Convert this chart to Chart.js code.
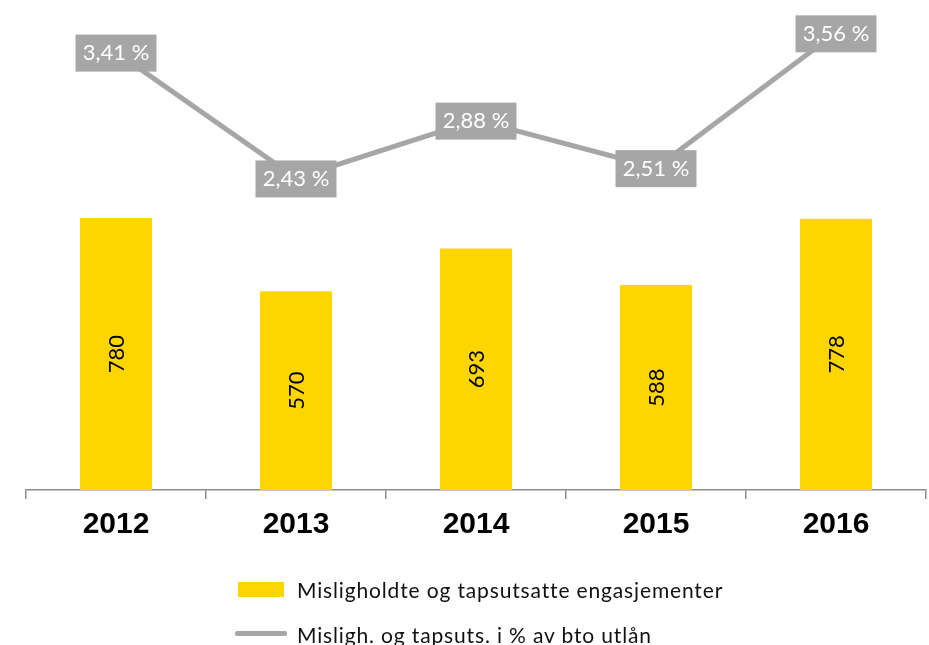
<!DOCTYPE html>
<html>
<head>
<meta charset="utf-8">
<script src="https://cdn.jsdelivr.net/npm/chart.js@4"></script>
<style>
  html, body { margin: 0; padding: 0; background: #fff; }
  #wrap { position: relative; width: 929px; height: 645px; overflow: hidden; }
  #c { position: absolute; left: 0; top: 0; }
  .leg { position: absolute; left: 0; font-family: Lato, "Open Sans", sans-serif; font-size: 21px; letter-spacing: 0.85px; color: #111; white-space: nowrap; }
  .sw { position: absolute; }
</style>
</head>
<body>
<div id="wrap">
  <canvas id="c" width="929" height="645"></canvas>
  <div class="sw" style="left:238px;top:582px;width:46px;height:15px;background:#FFD500"></div>
  <div class="leg" id="l1" style="left:297px;top:577px;">Misligholdte og tapsutsatte engasjementer</div>
  <div class="sw" style="left:235px;top:631px;width:52px;height:5px;border-radius:2px;background:#A6A6A6"></div>
  <div class="leg" id="l2" style="left:297px;top:622px;">Misligh. og tapsuts. i % av bto utlån</div>
</div>
<script>
const categories = ["2012", "2013", "2014", "2015", "2016"];
const barValues = [780, 570, 693, 588, 778];
const lineValues = [3.41, 2.43, 2.88, 2.51, 3.56];
const barLabel = "Misligholdte og tapsutsatte engasjementer";
const lineLabel = "Misligh. og tapsuts. i % av bto utlån";

const fmtPct = v => v.toFixed(2).replace(".", ",") + " %";

const labelPlugin = {
  id: "labels",
  afterDatasetsDraw(chart) {
    const ctx = chart.ctx;
    chart.data.datasets.forEach((ds, i) => {
      const meta = chart.getDatasetMeta(i);
      meta.data.forEach((el, j) => {
        ctx.save();
        if (ds.type === "bar") {
          const cy = (el.y + el.base) / 2;
          ctx.translate(el.x, cy);
          ctx.rotate(-Math.PI / 2);
          ctx.font = "22px Lato, 'Open Sans', sans-serif";
          ctx.fillStyle = "#000";
          ctx.textAlign = "center";
          ctx.textBaseline = "middle";
          ctx.fillText(String(ds.data[j]), 0, 1);
        } else {
          const w = 81, h = 37;
          ctx.fillStyle = "#A6A6A6";
          ctx.fillRect(el.x - w / 2, el.y - h / 2 + 1, w, h);
          ctx.font = "22px Lato, 'Open Sans', sans-serif";
          ctx.fillStyle = "#fff";
          ctx.textAlign = "center";
          ctx.textBaseline = "middle";
          ctx.fillText(fmtPct(ds.data[j]), el.x, el.y + 1);
        }
        ctx.restore();
      });
    });
  }
};

new Chart(document.getElementById("c"), {
  data: {
    labels: categories,
    datasets: [
      {
        type: "line",
        label: lineLabel,
        data: lineValues,
        yAxisID: "y2",
        borderColor: "#A6A6A6",
        borderWidth: 5,
        pointRadius: 0,
        tension: 0,
        order: 0
      },
      {
        type: "bar",
        label: barLabel,
        data: barValues,
        yAxisID: "y",
        backgroundColor: "#FFD500",
        barPercentage: 0.8,
        categoryPercentage: 0.5,
        order: 1
      }
    ]
  },
  options: {
    responsive: false,
    animation: false,
    layout: { padding: { left: 26, right: 3, top: 2, bottom: 94 } },
    plugins: { legend: { display: false }, tooltip: { enabled: false } },
    scales: {
      x: {
        grid: { offset: true, drawOnChartArea: false, color: "#8C8C8C", tickLength: 9, lineWidth: 1.5 },
        border: { color: "#8C8C8C", width: 1.5 },
        ticks: { color: "#000", font: { family: "'Liberation Sans', Arial, sans-serif", size: 30, weight: "bold" }, padding: 8 }
      },
      y: { display: false, min: 0, max: 1400 },
      y2: { display: false, min: 0, max: 3.8, position: "right" }
    }
  },
  plugins: [labelPlugin]
});
</script>
</body>
</html>
